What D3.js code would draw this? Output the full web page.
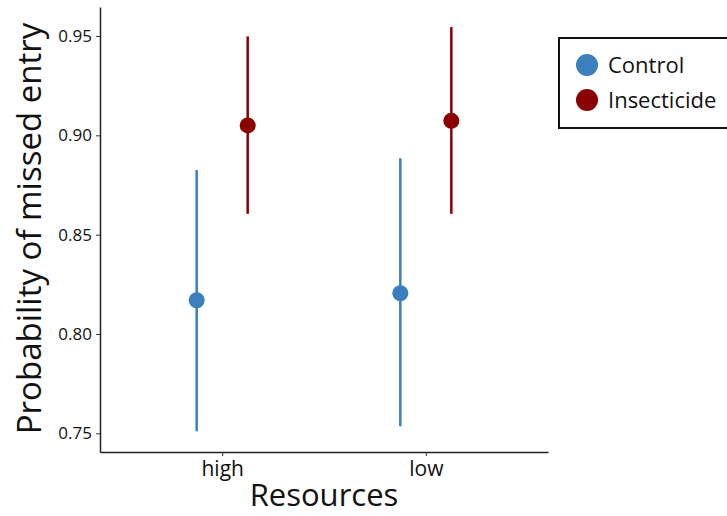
<!DOCTYPE html>
<html>
<head>
<meta charset="utf-8">
<script src="https://cdn.jsdelivr.net/npm/d3@7"></script>
<style>
  body { margin: 0; background: #fff; }
  text { font-family: "Open Sans", Lato, sans-serif; fill: #111; }
</style>
</head>
<body>
<div id="chart"></div>
<script>
// data
const resources = ["high", "low"];
const treatments = ["Control", "Insecticide"];
const colors = ["#3b7fbf", "#8b0000"];
const estimate = {Control: [0.817, 0.8205], Insecticide: [0.905, 0.9073]};
const lower = {Control: [0.751, 0.7535], Insecticide: [0.8605, 0.8605]};
const upper = {Control: [0.8825, 0.8885], Insecticide: [0.9498, 0.9545]};
const yTicks = [0.75, 0.80, 0.85, 0.90, 0.95];

const W = 727, H = 516;
const plot = {left: 100, right: 548, top: 7, bottom: 452};

const svg = d3.select("#chart").append("svg")
  .attr("width", W).attr("height", H);

const x = d3.scalePoint().domain(resources).range([plot.left, plot.right]).padding(0.6);
const dodge = d3.scalePoint().domain(treatments).range([-25.5, 25.5]);
const y = d3.scaleLinear().domain([0.7406, 0.9646]).range([plot.bottom, plot.top]);
const color = d3.scaleOrdinal().domain(treatments).range(colors);

// axes
const yAxis = svg.append("g")
  .attr("transform", "translate(" + plot.left + ",0)")
  .call(d3.axisLeft(y).tickValues(yTicks).tickFormat(d3.format(".2f")).tickSize(4).tickSizeOuter(0));
const xAxis = svg.append("g")
  .attr("transform", "translate(0," + plot.bottom + ")")
  .call(d3.axisBottom(x).tickSize(4).tickSizeOuter(0));

[yAxis, xAxis].forEach(g => {
  g.select(".domain").attr("stroke", "#222").attr("stroke-width", 1.5);
  g.selectAll(".tick line").attr("stroke", "#333").attr("stroke-width", 1);
});
yAxis.selectAll("text").style("font-size", "17px").attr("fill", "#222").attr("x", -8);
xAxis.selectAll("text").style("font-size", "21px").attr("fill", "#222").attr("dy", "0.8em");

// axis titles
svg.append("text")
  .attr("x", (plot.left + plot.right) / 2).attr("y", 506)
  .attr("text-anchor", "middle").style("font-size", "31px")
  .text("Resources");
svg.append("text")
  .attr("transform", "translate(41," + ((23 + 434) / 2) + ") rotate(-90)")
  .attr("text-anchor", "middle").style("font-size", "33px")
  .text("Probability of missed entry");

// error bars and points
const rows = [];
treatments.forEach(t => resources.forEach((r, i) => {
  rows.push({t: t, r: r, est: estimate[t][i], lo: lower[t][i], hi: upper[t][i]});
}));

svg.selectAll(".err").data(rows).enter().append("line")
  .attr("x1", d => x(d.r) + dodge(d.t))
  .attr("x2", d => x(d.r) + dodge(d.t))
  .attr("y1", d => y(d.lo))
  .attr("y2", d => y(d.hi))
  .attr("stroke", d => color(d.t))
  .attr("stroke-width", 2.5);

svg.selectAll(".pt").data(rows).enter().append("circle")
  .attr("cx", d => x(d.r) + dodge(d.t))
  .attr("cy", d => y(d.est))
  .attr("r", 8)
  .attr("fill", d => color(d.t));

// legend
const legend = svg.append("g").attr("transform", "translate(559,38)");
legend.append("rect")
  .attr("width", 180).attr("height", 90)
  .attr("fill", "#fff").attr("stroke", "#111").attr("stroke-width", 2);
treatments.forEach((t, i) => {
  legend.append("circle")
    .attr("cx", 28).attr("cy", 27 + i * 35).attr("r", 11)
    .attr("fill", color(t));
  legend.append("text")
    .attr("x", 49).attr("y", 27 + i * 35).attr("dy", "0.35em")
    .style("font-size", "22px")
    .text(t);
});
</script>
</body>
</html>
